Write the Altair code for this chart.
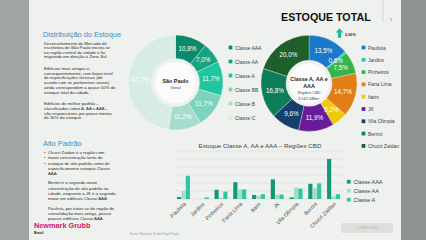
import altair as alt
import pandas as pd

# ---------------- data ----------------
sp_classes = ["Classe AAA", "Classe AA", "Classe A", "Classe BB", "Classe B", "Classe C"]
sp_share = [10.8, 7.0, 11.7, 11.7, 11.2, 47.7]
sp_colors = ["#0b8a6b", "#14a482", "#1ec79f", "#7ed3bd", "#a6dccd", "#d6ece5"]

cbd_regions = ["Paulista", "Jardins", "Pinheiros", "Faria Lima", "Itaim", "JK",
               "Vila Olimpia", "Berrini", "Chucri Zaidan"]
cbd_share = [13.5, 0.6, 7.5, 14.7, 5.2, 11.9, 9.6, 16.8, 20.0]
cbd_colors = ["#1b79c9", "#22c6b2", "#36b44b", "#e07f1a", "#eec90c", "#6a1b9a",
              "#173f6e", "#0e7d5c", "#1f5f2c"]

bar_series = ["Classe AAA", "Classe AA", "Classe A"]
bar_colors = ["#11977a", "#a3dcc9", "#2fc6a4"]
stock_aaa = [25000, 0, 115000, 210000, 50000, 245000, 20000, 190000, 500000]
stock_aa = [100000, 0, 15000, 120000, 40000, 55000, 140000, 135000, 35000]
stock_a = [290000, 20000, 92000, 120000, 60000, 55000, 130000, 195000, 60000]
y_ticks = [0, 100000, 200000, 300000, 400000, 500000, 600000]

FONT = "Liberation Sans"


def pct_label(v):
    return f"{v:.1f}%".replace(".", ",")


one = pd.DataFrame({"k": [0]})


def txt(lines, x, y, size=4.3, color="#2b2b2b", align="left", baseline="middle",
        weight="normal", lh=None, angle=None):
    kw = dict(text=lines, align=align, baseline=baseline, fontSize=size, font=FONT,
              color=color, fontWeight=weight)
    if lh is not None:
        kw["lineHeight"] = lh
    if angle is not None:
        kw["angle"] = angle
    return alt.Chart(one).mark_text(**kw).encode(x=alt.value(x), y=alt.value(y))


def rect(x, x2, y, y2, color, **kw):
    return alt.Chart(one).mark_rect(color=color, **kw).encode(
        x=alt.value(x), x2=alt.value(x2), y=alt.value(y), y2=alt.value(y2))


# ---------------- decorations ----------------
left_strip = rect(0, 29, 0, 240, "#a1a5a1")
right_strip = rect(401, 426, 0, 240, "#8f938f")

# ---------------- donut 1 ----------------
sp_df = pd.DataFrame({"classe": sp_classes, "pct": sp_share,
                      "ordem": list(range(len(sp_classes))),
                      "rot": [pct_label(v) for v in sp_share]})
SP_X, SP_Y = 175.5, 82.5
sp_base = alt.Chart(sp_df).encode(
    theta=alt.Theta("pct:Q", stack=True),
    order=alt.Order("ordem:Q"),
    x=alt.value(SP_X), y=alt.value(SP_Y))
sp_arc = sp_base.mark_arc(innerRadius=24, outerRadius=47.5, stroke="white",
                          strokeWidth=0.3).encode(
    color=alt.Color("classe:N", scale=alt.Scale(domain=sp_classes, range=sp_colors),
                    legend=alt.Legend(orient="none", legendX=228, legendY=45, title=None,
                                      symbolType="square", symbolSize=14,
                                      symbolStrokeWidth=0, labelFontSize=5,
                                      labelFont=FONT, labelColor="#444",
                                      rowPadding=8, padding=0, labelOffset=2)))
sp_txt = sp_base.mark_text(radius=35.5, fontSize=6.3, font=FONT, color="white").encode(
    text="rot:N", detail="classe:N")
sp_layer = alt.layer(sp_arc, sp_txt)
sp_hole = alt.Chart(one).mark_circle(size=3.1416 * 23.5 ** 2, color="#fafbfa",
                                     opacity=1).encode(x=alt.value(SP_X), y=alt.value(SP_Y))

# ---------------- donut 2 ----------------
cbd_df = pd.DataFrame({"regiao": cbd_regions, "pct": cbd_share,
                       "ordem": list(range(len(cbd_regions))),
                       "rot": [pct_label(v) for v in cbd_share]})
CB_X, CB_Y = 309, 83.3
cbd_base = alt.Chart(cbd_df).encode(
    theta=alt.Theta("pct:Q", stack=True),
    order=alt.Order("ordem:Q"),
    x=alt.value(CB_X), y=alt.value(CB_Y))
cbd_arc = cbd_base.mark_arc(innerRadius=23, outerRadius=48, stroke="white",
                            strokeWidth=0.3).encode(
    color=alt.Color("regiao:N", scale=alt.Scale(domain=cbd_regions, range=cbd_colors),
                    legend=alt.Legend(orient="none", legendX=361, legendY=45, title=None,
                                      symbolType="square", symbolSize=14,
                                      symbolStrokeWidth=0, labelFontSize=5,
                                      labelFont=FONT, labelColor="#444",
                                      rowPadding=6.3, padding=0, labelOffset=2)))
cbd_txt = cbd_base.mark_text(radius=35, fontSize=6.3, font=FONT, color="white").encode(
    text="rot:N", detail="regiao:N")
cbd_layer = alt.layer(cbd_arc, cbd_txt)
cbd_hole = alt.Chart(one).mark_circle(size=3.1416 * 22.5 ** 2, color="#fafbfa",
                                      opacity=1).encode(x=alt.value(CB_X), y=alt.value(CB_Y))

# ---------------- bar chart ----------------
rows = []
for i, reg in enumerate(cbd_regions):
    rows.append({"regiao": reg, "serie": "Classe AAA", "valor": stock_aaa[i]})
    rows.append({"regiao": reg, "serie": "Classe AA", "valor": stock_aa[i]})
    rows.append({"regiao": reg, "serie": "Classe A", "valor": stock_a[i]})
bar_df = pd.DataFrame(rows)

yscale = alt.Scale(domain=[0, 600000], range=[199, 151])
label_expr = ("replace(replace(replace(format(datum.value, ',.2f'), ',', '#'), '.', ','), '#', '.')")

grid = alt.Chart(pd.DataFrame({"v": y_ticks})).mark_rule(
    color="#d8dcd8", strokeWidth=0.6).encode(
    y=alt.Y("v:Q", scale=yscale, axis=None),
    x=alt.value(173), x2=alt.value(343))

bars = alt.Chart(bar_df).mark_bar().encode(
    x=alt.X("regiao:N", sort=cbd_regions,
            scale=alt.Scale(range=[174, 343], paddingInner=0.31, paddingOuter=0.16),
            axis=alt.Axis(orient="bottom", offset=-41, title=None, labelAngle=-45,
                          labelFontSize=5.5, labelFont=FONT, labelColor="#555",
                          domain=False, ticks=False, labelPadding=2)),
    xOffset=alt.XOffset("serie:N", sort=bar_series, scale=alt.Scale(paddingInner=0.05)),
    y=alt.Y("valor:Q", scale=yscale,
            axis=alt.Axis(orient="left", offset=-172, values=y_ticks, labelExpr=label_expr,
                          grid=False, domain=False, ticks=False, labelFontSize=4.8,
                          labelFont=FONT, labelColor="#666", labelPadding=2,
                          title="m²", titleFontSize=5, titleFont=FONT,
                          titleFontWeight="normal", titleColor="#666", titlePadding=2)),
    color=alt.Color("serie:N", scale=alt.Scale(domain=bar_series, range=bar_colors),
                    legend=alt.Legend(orient="none", legendX=346, legendY=179, title=None,
                                      symbolType="square", symbolSize=14,
                                      symbolStrokeWidth=0, labelFontSize=5.5,
                                      labelFont=FONT, labelColor="#444",
                                      rowPadding=2, padding=0, labelOffset=2)))

# ---------------- texts ----------------
t_title = txt("ESTOQUE TOTAL", 281, 18, size=10.7, color="#111", weight="bold")
t_page = txt("3", 390, 20, size=4, color="#888")
vline = alt.Chart(one).mark_rule(color="#c4c8c4", strokeWidth=0.6).encode(
    x=alt.value(383), y=alt.value(0), y2=alt.value(22))

arrow_path = "M-0.35,1 L-0.35,-0.1 L-0.8,-0.1 L0,-1 L0.8,-0.1 L0.35,-0.1 L0.35,1 Z"
arrow = alt.Chart(one).mark_point(shape=arrow_path, filled=True, color="#1fb99a",
                                  size=90, opacity=1).encode(
    x=alt.value(339.5), y=alt.value(33))
t_growth = txt("0,66%", 345, 34.5, size=3.8, color="#333", weight="bold")

h1 = txt("Distribuição do Estoque", 43, 35, size=7.4, color="#3a8fc8")
p1 = txt(["Desenvolvimento do Mercado de",
          "escritórios de São Paulo iniciou-se",
          "na região central da cidade e foi",
          "migrando em direção à Zona Sul."], 44, 44, lh=4.3)
p2 = txt(["Edifícios mais antigos e,",
          "consequentemente, com baixo nível",
          "de especificações técnicas (de",
          "acordo com os parâmetros atuais)",
          "ainda correspondem a quase 50% do",
          "estoque total da cidade."], 44, 69, lh=4.7)
p3 = txt(["Edifícios de melhor padrão –",
          "classificados como A, AA e AAA –",
          "são responsáveis por pouco menos",
          "de 30% do estoque."], 44, 104.3, lh=4.7)

h2 = txt("Alto Padrão", 43, 144, size=7.4, color="#3a8fc8")
bul = txt(["•", "", "", "", "", "•", "", "", "", "•"], 44, 153, lh=5.3)
b1 = txt(["Chucri Zaidan é a região com",
          "maior concentração tanto de",
          "estoque de alto padrão como de",
          "especificamente estoque Classe",
          "AAA."], 48, 153, lh=5.3)
b2 = txt(["Berrini é a segunda maior",
          "concentração de alto padrão na",
          "cidade, enquanto a JK é a segunda",
          "maior em edifícios Classe AAA."], 48, 183.3, lh=5.4)
b3 = txt(["Paulista, por tratar-se de região de",
          "consolidação mais antiga, possui",
          "poucos edifícios Classe AAA."], 48, 208.7, lh=5.3)

logo1 = txt("Newmark Grubb", 34, 226, size=7.3, color="#d4175e", weight="bold")
logo2 = txt("Brasil", 34, 232.5, size=3.4, color="#222", weight="bold")

c1a = txt("São Paulo", SP_X, 81, size=5.4, color="#222", align="center", weight="bold")
c1b = txt("Geral", SP_X, 87.5, size=4.2, color="#444", align="center")
c2 = txt(["Classe A, AA e", "AAA"], CB_X, 79, size=5.4, color="#222", align="center",
         weight="bold", lh=6.5)
c2b = txt("Regiões CBD", CB_X, 92.5, size=3.8, color="#444", align="center")
c2c = txt("3.142.548m²", CB_X, 98.5, size=3.8, color="#333", align="center")

bar_title = txt("Estoque Classe A, AA e AAA – Regiões CBD", 260, 145.5, size=6.2,
                color="#444", align="center")
source = txt("Fonte: Newmark Grubb Knight Frank", 130, 234, size=3, color="#999")

button = alt.Chart(one).mark_rect(color="#dcdfdc", cornerRadius=2).encode(
    x=alt.value(341), x2=alt.value(393), y=alt.value(223), y2=alt.value(233))
t_button = txt("CLIENT LOGO", 367, 228, size=3.2, color="#a8aba8", align="center")

chart = alt.layer(
    left_strip, right_strip, vline, t_page, t_title, arrow, t_growth,
    h1, p1, p2, p3, h2, bul, b1, b2, b3, logo1, logo2,
    grid, bars, bar_title, source, button, t_button,
    sp_layer, sp_hole, c1a, c1b,
    cbd_layer, cbd_hole, c2, c2b, c2c,
).resolve_scale(theta="independent", color="independent").properties(
    width=426, height=240, padding=0, background="#eef1ed",
    autosize=alt.AutoSizeParams(type="none")
).configure_view(stroke=None)

chart.save("out.html", embed_options={"renderer": "svg", "actions": False})
